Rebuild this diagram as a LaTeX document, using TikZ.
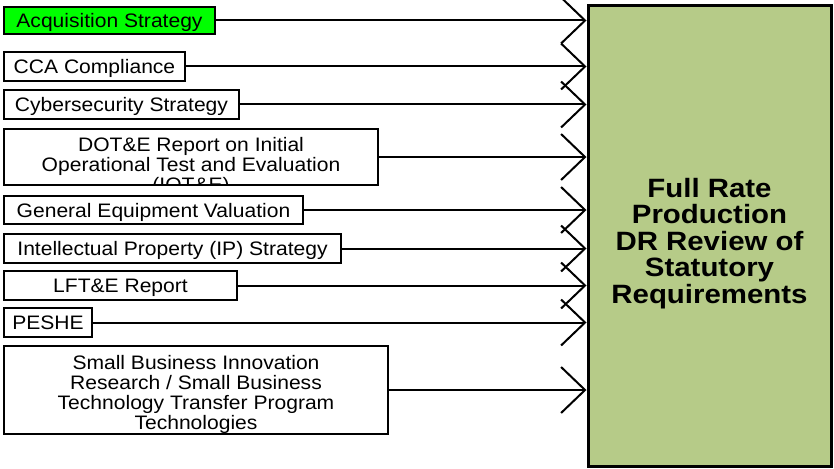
\documentclass[tikz,border=0pt]{standalone}
\usepackage{fontspec}
\setmainfont{Liberation Sans}
\newfontfamily\boxfont[FakeStretch=1.08]{Liberation Sans}
\newfontfamily\reviewfont[FakeStretch=1.11]{Liberation Sans}
\usepackage{tikz}
\usetikzlibrary{arrows.meta}
\usepackage{xcolor}
\definecolor{ReviewGreen}{HTML}{B6CB88}
\definecolor{BrightGreen}{HTML}{00FF00}

\begin{document}
\begin{tikzpicture}[
    x=1pt, y=-1pt,
    font=\boxfont\fontsize{19.5}{20}\selectfont,
    >={Straight Barb[length=24pt, width=46pt]},
    line/.style={draw, line width=2pt, ->},
    block/.style={
        rectangle, draw=black, line width=2pt,
        fill=white, inner sep=0pt,
        minimum height=29, align=center,
        text height=14pt, text depth=0pt
    },
    review/.style={
        rectangle, draw=black, line width=3pt,
        fill=ReviewGreen, inner sep=0pt,
        minimum width=243, minimum height=460,
        text height=134pt, text depth=0pt,
        align=center, font=\reviewfont\bfseries\fontsize{26.5}{26.5}\selectfont
    },
    clipped/.style={anchor=north, inner sep=0pt, align=center, text height={}, text depth={}}
]
    \useasboundingbox (0,0) rectangle (834,468);

    % Review box
    \node[review] (dr) at (709.5,236) {Full Rate\\Production\\DR Review of\\Statutory\\Requirements};

    % Inputs
    \node[block, fill=BrightGreen, minimum width=211, minimum height=27] (acq) at (109.5,20.5) {Acquisition Strategy};
    \node[block, minimum width=181] (cca) at (94.5,66.5) {CCA Compliance};
    \node[block, minimum width=235] (cyber) at (121.5,104.5) {Cybersecurity Strategy};
    \node[block, minimum width=374, minimum height=56,
          path picture={\node[clipped] (dotetext) at ([yshift=-7pt]path picture bounding box.north)
            {DOT\&E Report on Initial\\Operational Test and Evaluation\\(IOT\&E)};}] (dote) at (191,157) {};
    \node[block, minimum width=299, minimum height=28] (gev) at (153.5,210) {General Equipment Valuation};
    \node[block, minimum width=337] (ip) at (172.5,248.5) {Intellectual Property (IP) Strategy};
    \node[block, minimum width=233] (lfte) at (120.5,285.5) {LFT\&E Report};
    \node[block, minimum width=88] (peshe) at (48,322.5) {PESHE};
    \node[block, minimum width=384, minimum height=88, text height=78pt] (sbir) at (196,390)
        {Small Business Innovation\\Research / Small Business\\Technology Transfer Program\\Technologies};

    % Arrows
    \foreach \n in {acq, cca, cyber, dote, gev, ip, lfte, peshe, sbir}
        \path[line] (\n.east) -- (\n.east -| dr.west);

\end{tikzpicture}
\end{document}
